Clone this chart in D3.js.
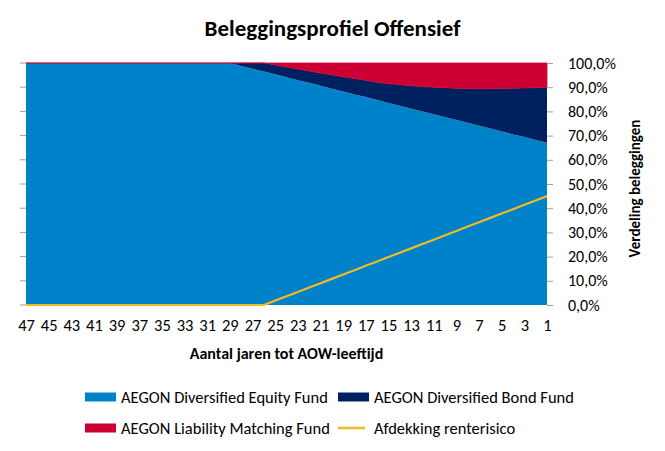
<!DOCTYPE html>
<html>
<head>
<meta charset="utf-8">
<script src="https://cdn.jsdelivr.net/npm/d3@7"></script>
<style>
  html, body { margin: 0; padding: 0; background: #fff; }
  svg { display: block; }
  text { font-family: Carlito, "Liberation Sans Narrow", "Open Sans", sans-serif; fill: #000; }
</style>
</head>
<body>
<svg id="chart" width="665" height="451"></svg>
<script>
// ---- data ----
const years = [47,46,45,44,43,42,41,40,39,38,37,36,35,34,33,32,31,30,29,28,27,26,25,24,23,22,21,20,19,18,17,16,15,14,13,12,11,10,9,8,7,6,5,4,3,2,1];
const equity = [100,100,100,100,100,100,100,100,100,100,100,100,100,100,100,100,100,100,100,
  98.8,97.6,96.5,95.3,94.1,92.9,91.8,90.6,89.4,88.2,87.0,85.9,84.7,83.5,82.3,81.1,80.0,78.8,77.6,76.4,75.3,74.1,72.9,71.7,70.5,69.4,68.2,67.0];
const bond = [0,0,0,0,0,0,0,0,0,0,0,0,0,0,0,0,0,0,0,
  1.2,2.4,3.5,3.9,4.2,4.6,4.9,5.3,5.7,6.1,6.6,7.0,7.3,8.0,8.7,9.5,10.3,11.2,12.2,13.2,14.2,15.3,16.5,17.8,19.1,20.3,21.6,23.0];
const liability = [0,0,0,0,0,0,0,0,0,0,0,0,0,0,0,0,0,0,0,0,0,0,
  0.8,1.7,2.5,3.3,4.1,4.9,5.7,6.4,7.1,8.0,8.5,9.0,9.4,9.7,10.0,10.2,10.4,10.5,10.6,10.6,10.5,10.4,10.3,10.2,10.0];
const hedge = [0,0,0,0,0,0,0,0,0,0,0,0,0,0,0,0,0,0,0,0,0,0,
  1.8,3.6,5.4,7.2,9.0,10.8,12.6,14.4,16.2,18.0,19.8,21.6,23.4,25.2,27.0,28.8,30.6,32.4,34.2,36.0,37.8,39.6,41.4,43.2,45.0];
const xTickLabels = [47,45,43,41,39,37,35,33,31,29,27,25,23,21,19,17,15,13,11,9,7,5,3,1];
const yTicks = [0,10,20,30,40,50,60,70,80,90,100];
const seriesNames = ["AEGON Diversified Equity Fund","AEGON Diversified Bond Fund","AEGON Liability Matching Fund","Afdekking renterisico"];
const title = "Beleggingsprofiel Offensief";
const xTitle = "Aantal jaren tot AOW-leeftijd";
const yTitle = "Verdeling beleggingen";

// ---- chart ----
const FONT = 'Carlito, "Liberation Sans Narrow", "Open Sans", sans-serif';
const colors = { equity: "#0082CA", bond: "#00215F", liability: "#CC0033", hedge: "#F2BA22" };
const svg = d3.select("#chart");
const L = 26, R = 547, T = 63, B = 305;

const table = years.map((y, i) => ({ year: y, equity: equity[i], bond: bond[i], liability: liability[i], hedge: hedge[i] }));
const x = d3.scalePoint().domain(years).range([L, R]).padding(0);
const y = d3.scaleLinear().domain([0, 100]).range([B, T]);

const stack = d3.stack().keys(["equity", "bond", "liability"]);
const layers = stack(table);
const area = d3.area().x(d => x(d.data.year)).y0(d => y(d[0])).y1(d => y(d[1]));

svg.append("g").selectAll("path").data(layers).join("path")
  .attr("d", area)
  .attr("fill", d => colors[d.key])
  .attr("stroke", d => d.key === "liability" ? colors.liability : "none")
  .attr("stroke-width", d => d.key === "liability" ? 0.8 : 0);

// hedge line
svg.append("path")
  .datum(table)
  .attr("fill", "none")
  .attr("stroke", colors.hedge)
  .attr("stroke-width", 2.2)
  .attr("d", d3.line().x(d => x(d.year)).y(d => y(d.hedge)));

// left axis ticks (no labels)
svg.append("g").selectAll("line").data(yTicks).join("line")
  .attr("x1", L - 6).attr("x2", L)
  .attr("y1", d => y(d)).attr("y2", d => y(d))
  .attr("stroke", "#a0a0a0").attr("stroke-width", 1);

// right axis
const right = d3.axisRight(y).tickValues(yTicks).tickSize(6).tickPadding(15)
  .tickFormat(d => d3.format(".1f")(d).replace(".", ",") + "%");
const ra = svg.append("g").attr("transform", `translate(${R},0)`).call(right);
ra.select(".domain").remove();
ra.selectAll(".tick line").attr("stroke", "#a0a0a0");
ra.selectAll(".tick text").attr("font-size", 16).attr("fill", "#222").style("font-family", FONT);

// bottom axis labels
const bottom = d3.axisBottom(x).tickValues(xTickLabels).tickSize(0).tickPadding(14);
const ba = svg.append("g").attr("transform", `translate(0,${B})`).call(bottom);
ba.select(".domain").remove();
ba.selectAll(".tick text").attr("font-size", 16.5).attr("fill", "#222").style("font-family", FONT);

// titles
svg.append("text").attr("x", 332.5).attr("y", 36).attr("text-anchor", "middle")
  .attr("font-size", 23).attr("font-weight", "bold").text(title);
svg.append("text").attr("x", (L + R) / 2).attr("y", 359).attr("text-anchor", "middle")
  .attr("font-size", 16).attr("font-weight", "bold").text(xTitle);
svg.append("text").attr("transform", "translate(640,188.5) rotate(-90)").attr("text-anchor", "middle")
  .attr("font-size", 15).attr("font-weight", "bold").text(yTitle);

// legend
const legendItems = [
  { name: seriesNames[0], color: colors.equity, type: "rect", x: 85, y: 397 },
  { name: seriesNames[1], color: colors.bond, type: "rect", x: 338, y: 397 },
  { name: seriesNames[2], color: colors.liability, type: "rect", x: 85, y: 428 },
  { name: seriesNames[3], color: colors.hedge, type: "line", x: 338, y: 428 }
];
const lg = svg.append("g").selectAll("g").data(legendItems).join("g")
  .attr("transform", d => `translate(${d.x},${d.y})`);
lg.filter(d => d.type === "rect").append("rect")
  .attr("x", 0).attr("y", -4.5).attr("width", 31).attr("height", 9).attr("fill", d => d.color);
lg.filter(d => d.type === "line").append("line")
  .attr("x1", 0).attr("x2", 27).attr("y1", 0).attr("y2", 0)
  .attr("stroke", d => d.color).attr("stroke-width", 2.5);
lg.append("text").attr("x", 36).attr("dy", "0.35em").attr("font-size", 16.5).attr("fill", "#222")
  .text(d => d.name);
</script>
</body>
</html>
